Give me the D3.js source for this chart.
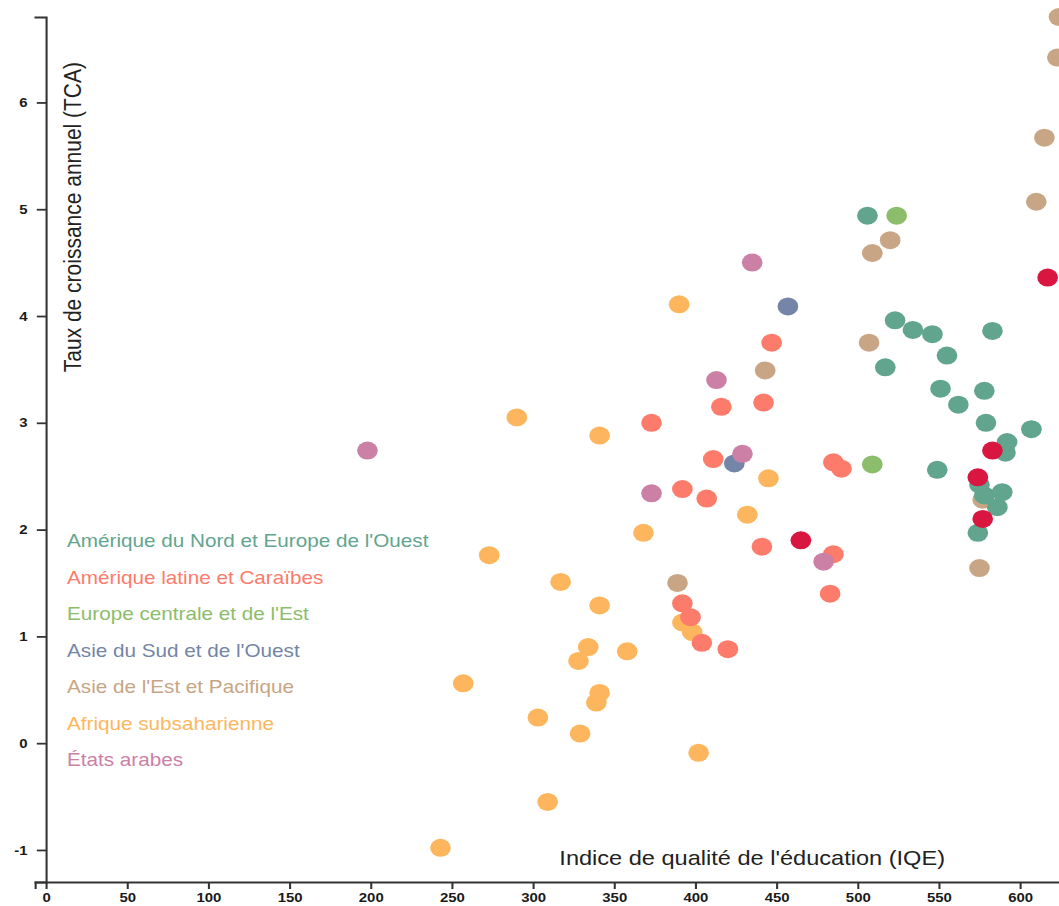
<!DOCTYPE html>
<html>
<head>
<meta charset="utf-8">
<script src="https://cdn.jsdelivr.net/npm/d3@7"></script>
<style>
  body { margin: 0; background: #fff; }
  svg text { font-family: Helvetica, Arial, "Liberation Sans", sans-serif; }
  .axis path, .axis line { stroke: #333; stroke-width: 1.8; }
  .axis text { font-size: 13px; font-weight: bold; fill: #1a1a1a; }
</style>
</head>
<body>
<svg id="chart" width="1059" height="906"></svg>
<script>
// régions (légende) et couleurs
var regions = ["Amérique du Nord et Europe de l'Ouest", "Amérique latine et Caraïbes", "Europe centrale et de l'Est",
               "Asie du Sud et de l'Ouest", "Asie de l'Est et Pacifique", "Afrique subsaharienne", "États arabes"];
var couleurs = ["#62a58f", "#fd7b6a", "#8cbd6b", "#7485a8", "#c8a584", "#feb65e", "#cc80a6"];
var couleurSansLegende = "#d9163f";

// [IQE, TCA]
var ameriqueNord = [[506,4.94],[523,3.96],[534,3.87],[546,3.83],[583,3.86],[555,3.63],[517,3.52],[551,3.32],
  [578,3.30],[562,3.17],[579,3.00],[607,2.94],[592,2.82],[591,2.72],[549,2.56],[575,2.42],[589,2.35],
  [578,2.32],[586,2.21],[574,1.97]];
var ameriqueLatine = [[373,3.00],[416,3.15],[411,2.66],[392,2.38],[407,2.29],[447,3.75],[442,3.19],[485,2.63],
  [490,2.57],[441,1.84],[485,1.77],[483,1.40],[392,1.31],[397,1.18],[404,0.94],[420,0.88]];
var europeEst = [[524,4.94],[509,2.61]];
var asieSud = [[457,4.09],[424,2.62]];
var asieEst = [[624,6.80],[623,6.42],[615,5.67],[610,5.07],[520,4.71],[509,4.59],[507,3.75],[443,3.49],
  [575,1.64],[389,1.50],[577,2.28]];
var afrique = [[390,4.11],[290,3.05],[341,2.88],[445,2.48],[432,2.14],[368,1.97],[273,1.76],[317,1.51],
  [341,1.29],[334,0.90],[328,0.77],[358,0.86],[257,0.56],[341,0.47],[339,0.38],[303,0.24],[329,0.09],
  [402,-0.09],[309,-0.55],[243,-0.98],[392,1.13],[398,1.04]];
var etatsArabes = [[198,2.74],[435,4.50],[413,3.40],[373,2.34],[429,2.71],[479,1.70]];
var autres = [[465,1.90],[574,2.49],[577,2.10],[583,2.74],[617,4.36]];

var xTicks = [0,50,100,150,200,250,300,350,400,450,500,550,600];
var yTicks = [-1,0,1,2,3,4,5,6];

var svg = d3.select("#chart");
var sx = 1.15; // l'image d'origine est étirée horizontalement
var g = svg.append("g").attr("transform", "scale(" + sx + ",1)");

var x = d3.scaleLinear().domain([0, 600]).range([40, 887]);
x.domain([x.invert(30.5), x.invert(1000)]).range([30.5, 1000]);
var y = d3.scaleLinear().domain([-1.30, 6.80]).range([882, 17]);

g.append("g")
    .attr("class", "axis")
    .attr("transform", "translate(0," + y.range()[0] + ")")
    .call(d3.axisBottom(x).tickValues(xTicks).tickFormat(function(d) { return String(d); }).tickSize(7).tickPadding(4));

g.append("g")
    .attr("class", "axis")
    .attr("transform", "translate(" + x(0) + ",0)")
    .call(d3.axisLeft(y).tickValues(yTicks).tickFormat(function(d) { return String(d); }).tickSize(8).tickSizeOuter(10).tickPadding(8));

// titres des axes
g.append("text")
    .attr("transform", "rotate(-90)")
    .attr("x", -62)
    .attr("y", 73 / sx)
    .attr("dy", ".35em")
    .style("text-anchor", "end")
    .style("font-size", "21px")
    .style("fill", "#222")
    .text("Taux de croissance annuel (TCA)");

g.append("text")
    .attr("x", 945 / sx)
    .attr("y", 858)
    .attr("dy", ".35em")
    .style("text-anchor", "end")
    .style("font-size", "20.5px")
    .style("fill", "#222")
    .text("Indice de qualité de l'éducation (IQE)");

// points, dans l'ordre de superposition
var series = [
  {data: asieEst, color: couleurs[4]},
  {data: afrique, color: couleurs[5]},
  {data: ameriqueLatine, color: couleurs[1]},
  {data: ameriqueNord, color: couleurs[0]},
  {data: europeEst, color: couleurs[2]},
  {data: asieSud, color: couleurs[3]},
  {data: etatsArabes, color: couleurs[6]},
  {data: autres, color: couleurSansLegende}
];

series.forEach(function(s) {
  g.append("g").selectAll("circle")
      .data(s.data)
    .enter().append("circle")
      .attr("cx", function(d) { return x(d[0]); })
      .attr("cy", function(d) { return y(d[1]); })
      .attr("r", 9)
      .style("fill", s.color);
});

// légende
var legende = g.append("g").attr("transform", "translate(" + (67 / sx) + ",541)");
legende.selectAll("text")
    .data(regions)
  .enter().append("text")
    .attr("y", function(d, i) { return i * 36.5; })
    .attr("dy", ".35em")
    .style("font-size", "18px")
    .style("fill", function(d, i) { return couleurs[i]; })
    .text(function(d) { return d; });
</script>
</body>
</html>
